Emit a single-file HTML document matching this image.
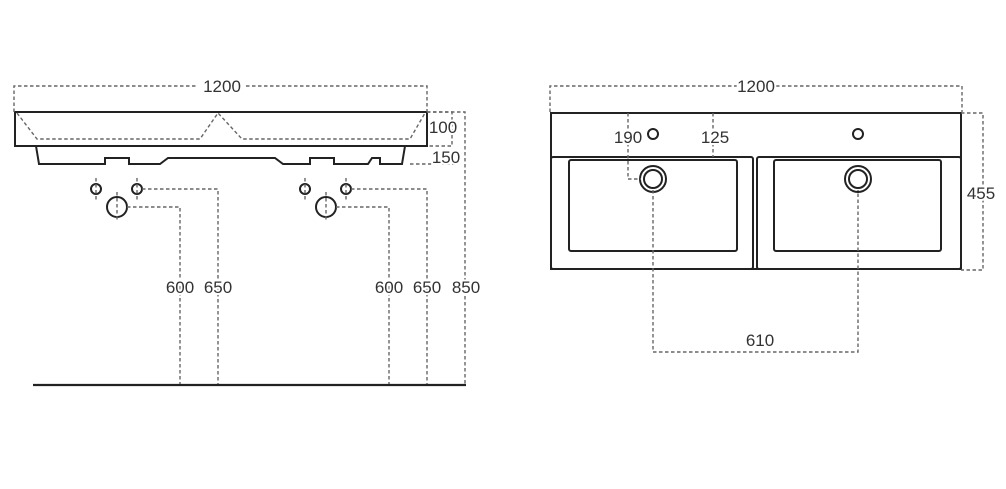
<!DOCTYPE html><html><head><style>body{margin:0;background:#fff}svg{display:block}text{font-family:"Liberation Sans",sans-serif;font-size:17px;fill:#333}</style></head><body>
<svg width="1006" height="489" viewBox="0 0 1006 489">
<g fill="none" stroke="#222" stroke-width="2">
<path d="M36,146L39,164H105V158H129V164H160L168,158H275L283,164H310V158H334V164H368L372,158H380V164H402L405,146"/>
<rect x="15" y="112" width="412" height="34"/>
<circle cx="96" cy="189" r="5"/><circle cx="137" cy="189" r="5"/><circle cx="117" cy="207" r="10"/>
<circle cx="305" cy="189" r="5"/><circle cx="346" cy="189" r="5"/><circle cx="326" cy="207" r="10"/>
<rect x="551" y="113" width="410" height="156"/>
<rect x="551" y="157" width="202" height="112" rx="2"/>
<rect x="757" y="157" width="204" height="112" rx="2"/>
<rect x="569" y="160" width="168" height="91" rx="2"/>
<rect x="774" y="160" width="167" height="91" rx="2"/>
<circle cx="653" cy="134" r="5"/><circle cx="858" cy="134" r="5"/>
<circle cx="653" cy="179" r="13"/><circle cx="653" cy="179" r="9"/>
<circle cx="858" cy="179" r="13"/><circle cx="858" cy="179" r="9"/>
</g>
<g fill="none" stroke="#666" stroke-width="1.4" stroke-dasharray="3.5,2.5">
<path d="M14,112V86H198M246,86H427V112"/>
<path d="M17,113L37,139H200L218,113L242,139H410L425,113"/>
<path d="M427,112H452V146H427M410,164H457"/>
<path d="M427,112H465V385"/>
<path d="M96,178V200M137,178V200M117,192V222"/>
<path d="M305,178V200M346,178V200M326,192V222"/>
<path d="M142,189H218V385M127,207H180V385"/>
<path d="M351,189H427V385M336,207H389V385"/>
<path d="M550,112V86H737M776,86H962V112"/>
<path d="M628,113V179H641M713,113V157"/>
<path d="M961,113H983V270H961"/>
<path d="M653,190V352H858V190"/>
</g>
<path d="M33,385H466" stroke="#222" stroke-width="2.2"/>
<g text-anchor="middle" stroke="#fff" stroke-width="4" paint-order="stroke">
<text x="222" y="92">1200</text><text x="756" y="92">1200</text>
<text x="443" y="133">100</text><text x="446" y="163">150</text>
<text x="180" y="293">600</text><text x="218" y="293">650</text>
<text x="389" y="293">600</text><text x="427" y="293">650</text>
<text x="466" y="293">850</text>
<text x="628" y="143">190</text><text x="715" y="143">125</text>
<text x="981" y="199">455</text><text x="760" y="346">610</text>
</g>
</svg></body></html>
